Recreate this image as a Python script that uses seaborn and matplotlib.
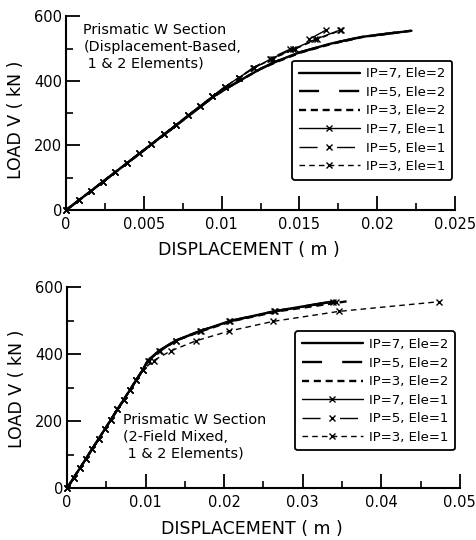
import matplotlib
matplotlib.use("Agg")
import matplotlib.pyplot as plt
from matplotlib.ticker import MultipleLocator, FixedLocator
import seaborn as sns

# ---- top panel: displacement-based ----
top_ele2_x = {
    "IP=7": [0, 0.0095, 0.0105, 0.0115, 0.0125, 0.0135, 0.015, 0.017, 0.019, 0.0222],
    "IP=5": [0, 0.0095, 0.0105, 0.0115, 0.0125, 0.0135, 0.0150, 0.0170, 0.0190, 0.0221],
    "IP=3": [0, 0.0095, 0.0105, 0.0115, 0.0125, 0.0136, 0.0151, 0.0171, 0.0191, 0.0222],
}
top_ele2_y = [0, 352, 382, 410, 437, 460, 488, 515, 536, 555]

load_steps = [0, 30, 59, 88, 118, 147, 176, 205, 235, 264, 293, 322, 352,
              381, 410, 440, 469, 498, 528, 557]
top_ele1_x = {
    "IP=7": [0, 0.0008, 0.00158, 0.00235, 0.00315, 0.00393, 0.0047, 0.00547, 0.00628,
             0.00705, 0.00782, 0.0086, 0.0094, 0.0102, 0.0111, 0.0121, 0.0132, 0.0146,
             0.0160, 0.0176],
    "IP=5": [0, 0.0008, 0.00158, 0.00235, 0.00315, 0.00393, 0.0047, 0.00547, 0.00628,
             0.00705, 0.00782, 0.0086, 0.0094, 0.0102, 0.0111, 0.0120, 0.0131, 0.0144,
             0.0156, 0.0167],
    "IP=3": [0, 0.0008, 0.00158, 0.00235, 0.00315, 0.00393, 0.0047, 0.00547, 0.00628,
             0.00705, 0.00782, 0.0086, 0.0094, 0.0102, 0.0111, 0.0121, 0.0133, 0.0147,
             0.0161, 0.0177],
}

# ---- bottom panel: 2-field mixed ----
bot_ele2_x = {
    "IP=7": [0, 0.0096, 0.0103, 0.0117, 0.0139, 0.0169, 0.0207, 0.0265, 0.0339],
    "IP=5": [0, 0.0096, 0.0103, 0.0117, 0.0139, 0.0169, 0.0207, 0.0266, 0.0340],
    "IP=3": [0, 0.0096, 0.0103, 0.0118, 0.0140, 0.0171, 0.0210, 0.0270, 0.0356],
}
bot_ele2_y = [0, 352, 382, 410, 442, 469, 499, 529, 558]

bot_ele1_x = {
    "IP=7": [0, 0.00082, 0.00161, 0.0024, 0.00322, 0.00401, 0.0048, 0.00559, 0.00641,
             0.0072, 0.00799, 0.00878, 0.0096, 0.0103, 0.0117, 0.0138, 0.0169, 0.0206,
             0.0264, 0.0338],
    "IP=5": [0, 0.00082, 0.00161, 0.0024, 0.00322, 0.00401, 0.0048, 0.00559, 0.00641,
             0.0072, 0.00799, 0.00878, 0.0096, 0.0104, 0.0118, 0.0139, 0.0170, 0.0207,
             0.0265, 0.0342],
    "IP=3": [0, 0.00082, 0.00161, 0.0024, 0.00322, 0.00401, 0.0048, 0.00559, 0.00641,
             0.0072, 0.00799, 0.00878, 0.0096, 0.0110, 0.0132, 0.0164, 0.0206, 0.0262,
             0.0346, 0.0474],
}

top_xticks = [0, 0.005, 0.01, 0.015, 0.02, 0.025]
top_xlabels = ["0", "0.005", "0.01", "0.015", "0.02", "0.025"]
bot_xticks = [0, 0.01, 0.02, 0.03, 0.04, 0.05]
bot_xlabels = ["0", "0.01", "0.02", "0.03", "0.04", "0.05"]
yticks = [0, 200, 400, 600]

styles_ele2 = {"IP=7": "-", "IP=5": (0, (8.5, 8.5)), "IP=3": (0, (3, 2))}
styles_ele1 = {"IP=7": "-", "IP=5": (0, (13, 14)), "IP=3": (0, (4, 3))}

sns.set_style("ticks")
plt.rcParams["font.family"] = ["DejaVu Sans"]
for key in ["text.color", "axes.labelcolor", "xtick.color", "ytick.color"]:
    plt.rcParams[key] = "black"

fig = plt.figure(figsize=(4.76, 5.4), dpi=100)
ax_top = fig.add_axes([0.139, 0.611, 0.817, 0.359])
ax_bot = fig.add_axes([0.141, 0.096, 0.825, 0.372])


def draw(ax, e2x, e2y, e1x):
    for ip in ["IP=7", "IP=5", "IP=3"]:
        sns.lineplot(x=e2x[ip], y=e2y, ax=ax, color="k", lw=1.7, sort=False,
                     linestyle=styles_ele2[ip], label=f"{ip}, Ele=2", clip_on=False)
    for ip in ["IP=7", "IP=5", "IP=3"]:
        sns.lineplot(x=e1x[ip], y=load_steps, ax=ax, color="k", lw=1.0, sort=False,
                     linestyle=styles_ele1[ip], marker="x", markersize=4.3,
                     markeredgewidth=1.0, markeredgecolor="k",
                     label=f"{ip}, Ele=1", clip_on=False)


def style_axes(ax, xticks, xlabels, xminor, ylab_y):
    ax.set_xlim(xticks[0], xticks[-1])
    ax.set_ylim(0, 600)
    ax.xaxis.set_major_locator(FixedLocator(xticks))
    ax.set_xticklabels(xlabels)
    ax.xaxis.set_minor_locator(MultipleLocator(xminor))
    ax.yaxis.set_major_locator(FixedLocator(yticks))
    ax.yaxis.set_minor_locator(MultipleLocator(100))
    ax.tick_params(which="major", direction="in", length=10, width=1.3,
                   labelsize=10.5, colors="k")
    ax.tick_params(axis="x", which="major", pad=5)
    ax.tick_params(axis="y", which="major", pad=3)
    ax.tick_params(which="minor", direction="in", length=5, width=1.2, colors="k")
    sns.despine(ax=ax)
    for s in ["left", "bottom"]:
        ax.spines[s].set_linewidth(1.5)
        ax.spines[s].set_color("k")
    ax.set_xlabel("DISPLACEMENT ( m )", fontsize=12.5)
    ax.set_ylabel("LOAD V ( kN )", fontsize=12.5)
    ax.xaxis.set_label_coords(0.47, -0.16)
    ax.yaxis.set_label_coords(-0.105, ylab_y)


draw(ax_top, top_ele2_x, top_ele2_y, top_ele1_x)
style_axes(ax_top, top_xticks, top_xlabels, 0.0025, 0.466)
draw(ax_bot, bot_ele2_x, bot_ele2_y, bot_ele1_x)
style_axes(ax_bot, bot_xticks, bot_xlabels, 0.005, 0.497)

ax_top.text(0.044, 0.965, "Prismatic W Section\n(Displacement-Based,\n 1 & 2 Elements)",
            transform=ax_top.transAxes, ha="left", va="top", fontsize=10.4,
            linespacing=1.25)
ax_bot.text(0.1425, 0.375, "Prismatic W Section\n(2-Field Mixed,\n 1 & 2 Elements)",
            transform=ax_bot.transAxes, ha="left", va="top", fontsize=10.4,
            linespacing=1.25)

for ax, anchor in [(ax_top, (0.993, 0.77)), (ax_bot, (0.988, 0.78))]:
    leg = ax.legend(loc="upper right", bbox_to_anchor=anchor, borderaxespad=0,
                    fontsize=9.5, handlelength=4.6, handletextpad=0.5,
                    labelspacing=0.42, numpoints=1, fancybox=True, framealpha=1,
                    borderpad=0.5)
    leg.get_frame().set_edgecolor("k")
    leg.get_frame().set_linewidth(1.3)

fig.savefig("out.png", dpi=100)
